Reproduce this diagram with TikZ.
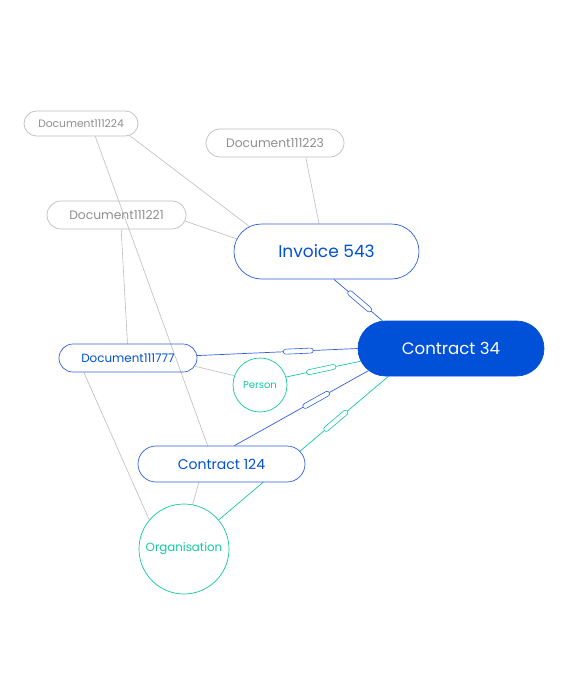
\documentclass[tikz,border=0pt]{standalone}
\usepackage{fontspec}
\setmainfont{Poppins}
\usetikzlibrary{shapes.misc,backgrounds}

\definecolor{docgray}{HTML}{BDBDBD}
\definecolor{doctext}{HTML}{8E8E8E}
\definecolor{linkblue}{HTML}{2F5FE0}
\definecolor{fillblue}{HTML}{0050D8}
\definecolor{linkteal}{HTML}{12C9A2}

\tikzset{
  pill/.style={rounded rectangle, draw, line width=0.7pt, inner sep=0pt},
  docpill/.style={pill, docgray, text=doctext},
  bluepill/.style={pill, linkblue, text=fillblue, fill=white},
  ring/.style={circle, draw=linkteal, text=linkteal, line width=0.7pt, inner sep=0pt, fill=white},
  fs/.style={font=\fontsize{#1}{#1}\selectfont},
  grayline/.style={docgray, line width=0.6pt},
  blueline/.style={linkblue, line width=0.7pt},
  tealline/.style={linkteal, line width=0.7pt},
  capsule/.style={rounded rectangle, draw, fill=white, sloped, inner sep=0pt,
    minimum width=30pt, minimum height=5pt, line width=0.6pt}
}

\begin{document}
\begin{tikzpicture}[x=1pt,y=-1pt]
  \useasboundingbox (0,0) rectangle (562,699);

  % documents
  \node[docpill, fs=10.7, minimum width=114pt, minimum height=25pt] (d224) at (81,123.5) {Document111224};
  \node[docpill, fs=12.3, minimum width=138pt, minimum height=28pt] (d223) at (275,143) {Document111223};
  \node[docpill, fs=12.3, minimum width=139pt, minimum height=28pt] (d221) at (116.5,215) {Document111221};
  \node[pill, linkblue, text=fillblue, fs=11.9, minimum width=138pt, minimum height=28pt] (d777) at (128,358) {Document111777};

  % main records
  \node[bluepill, fs=17, minimum width=185pt, minimum height=55pt] (inv) at (326.5,251.5) {Invoice 543};
  \node[pill, draw=fillblue, fill=fillblue, text=white, fs=16.6, minimum width=186pt, minimum height=55pt] (c34) at (451,348.5) {Contract 34};
  \node[bluepill, fs=14, minimum width=167pt, minimum height=36pt] (c124) at (221.5,464) {Contract 124};

  % parties
  \node[ring, fs=10, minimum size=54pt] (pers) at (260,385) {Person};
  \node[ring, fs=11.8, minimum size=90pt] (org) at (184,549) {Organisation};

  \begin{scope}[on background layer]
    \draw[grayline] (d224.-14) -- (inv.162);
    \draw[grayline] (d224.-42) -- (c124.127);
    \draw[grayline] (d223.-25) -- (inv.105);
    \draw[grayline] (d221.-5) -- (inv.172);
    \draw[grayline] (d221.-72) -- (d777.92);
    \draw[grayline] (d777.-7) -- (pers.160);
    \draw[grayline] (d777.-162) -- (org.140);
    \draw[grayline] (c124.-141) -- (org.79);

    \draw[blueline] (inv.-75) -- node[capsule, pos=0.53]{} (c34.158);
    \draw[blueline] (d777.2) -- node[capsule, pos=0.63]{} (c34.180);
    \draw[blueline] (c124.55) -- node[capsule, pos=0.61]{} (c34.-165);
    \draw[tealline] (pers.17) -- node[capsule, pos=0.47]{} (c34.-172);
    \draw[tealline] (org.40) -- node[capsule, pos=0.69]{} (c34.-156);
  \end{scope}
\end{tikzpicture}
\end{document}
